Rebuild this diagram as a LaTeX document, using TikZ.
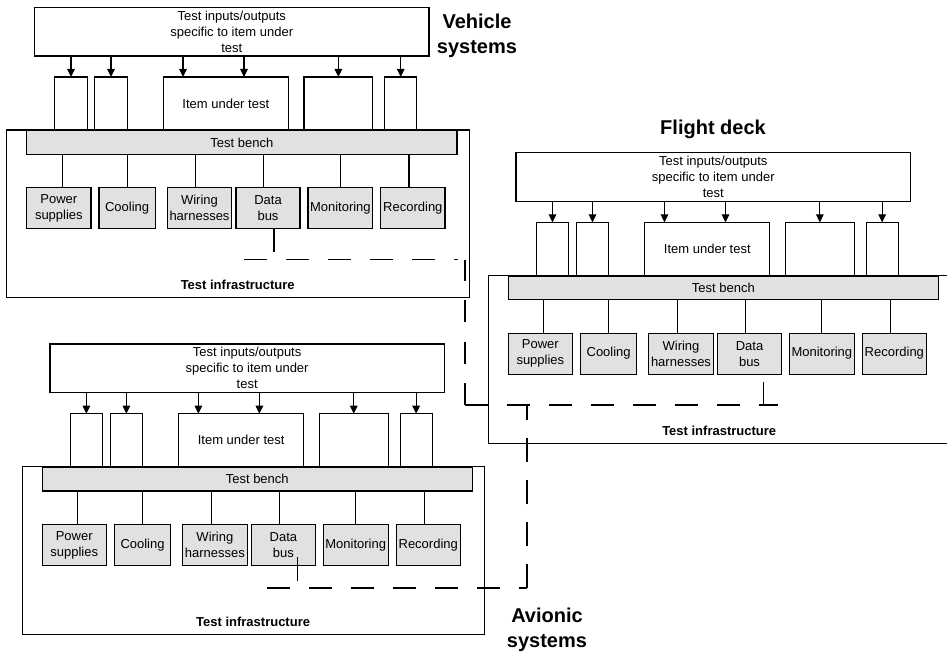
\documentclass[tikz,border=0pt]{standalone}
\usepackage{fontspec}
\setmainfont{Liberation Sans}
\usetikzlibrary{arrows.meta}

\definecolor{benchgray}{RGB}{225,225,225}

\tikzset{
  every node/.style={inner sep=0pt, outer sep=0pt},
  frame/.style={draw, line width=1.2pt, rectangle},
  iobox/.style={frame, align=center, font=\fontsize{13}{16}\selectfont},
  slot/.style={frame, fill=white, font=\fontsize{13}{16}\selectfont},
  part/.style={frame, fill=benchgray, align=center, font=\fontsize{13}{16}\selectfont},
  feed/.style={line width=1.2pt, -{Triangle[length=8pt,width=7.5pt]}},
  wire/.style={line width=1.2pt},
  link/.style={line width=1.2pt, dash pattern=on 23pt off 19pt},
  caption/.style={font=\bfseries\fontsize{13}{16}\selectfont},
  systitle/.style={font=\bfseries\fontsize{20}{25}\selectfont, align=center},
}

% One test rig: I/O box, slots, test bench, support units and infrastructure frame.
% #1 is the prefix used for all node names of the rig.
\newcommand{\testrig}[1]{%
  \node[frame, minimum width=462.6, minimum height=167.7] (#1-infra) at (238,213.85) {};
  \node[caption] (#1-infra-text) at (237.7,285.3) {Test infrastructure};
  \node[part, minimum width=430.3, minimum height=23.8] (#1-bench) at (241.85,142.4) {Test bench};
  % slots standing on the bench
  \node[slot, minimum width=32.6, minimum height=53] (#1-s1) at (71,103.5) {};
  \node[slot, minimum width=32.6, minimum height=53] (#1-s2) at (111,103.5) {};
  \node[slot, minimum width=125, minimum height=53] (#1-item) at (225.8,103.5) {Item under test};
  \node[slot, minimum width=68.7, minimum height=53] (#1-s4) at (338.35,103.5) {};
  \node[slot, minimum width=32, minimum height=53] (#1-s5) at (400.7,103.5) {};
  % specific inputs/outputs
  \node[iobox, minimum width=394.5, minimum height=48.7] (#1-io) at (231.75,31.65)
    {Test inputs/outputs\\specific to item under\\test};
  \coordinate (#1-ia) at ([xshift=-42.8pt]#1-item.north);
  \coordinate (#1-ib) at ([xshift=18.2pt]#1-item.north);
  \foreach \tgt in {s1,s2,ia,ib,s4,s5}{
    \draw[feed] (#1-io.south -| #1-\tgt) -- (#1-\tgt |- #1-s1.north);
  }
  % support units under the bench
  \node[part, minimum width=64.3, minimum height=41] (#1-power) at (58.85,208.2) {Power\\supplies};
  \node[part, minimum width=56.3, minimum height=41] (#1-cooling) at (127.15,208.2) {Cooling};
  \node[part, minimum width=64.4, minimum height=41] (#1-wiring) at (199.5,208.2) {Wiring\\harnesses};
  \node[part, minimum width=64, minimum height=41] (#1-data) at (268,208.2) {Data\\bus};
  \node[part, minimum width=64.7, minimum height=41] (#1-monitoring) at (340.35,208.2) {Monitoring};
  \node[part, minimum width=64.3, minimum height=41] (#1-recording) at (412.85,208.2) {Recording};
  \foreach \pname/\poff in {power/3.45, cooling/0, wiring/-3.8, data/-4.3, monitoring/0, recording/-3.85}{
    \coordinate (#1-\pname-top) at ([xshift=\poff pt]#1-\pname.north);
    \draw[wire] (#1-\pname-top |- #1-bench.south) -- (#1-\pname-top);
  }
}

\begin{document}
\begin{tikzpicture}[x=1pt, y=-1pt]
  \useasboundingbox (0,0) rectangle (947,652);
  \clip (0,0) rectangle (947,652);

  % vehicle systems rig
  \begin{scope}[shift={(0,0)}]
    \testrig{veh}
  \end{scope}
  % flight deck rig
  \begin{scope}[shift={(481.5,145.4)}]
    \testrig{fd}
  \end{scope}
  % avionic systems rig
  \begin{scope}[shift={(15.4,336.7)}]
    \testrig{av}
  \end{scope}

  % titles
  \node[systitle] (veh-title) at (477,35.6) {Vehicle\\systems};
  \node[systitle, anchor=base] (fd-title) at (713,135) {Flight deck};
  \node[systitle] (av-title) at (547,629.4) {Avionic\\systems};

  % data bus taps
  \coordinate (veh-bus-a) at ([xshift=6pt]veh-data.south);
  \coordinate (veh-bus-b) at ([xshift=6pt,yshift=-23pt]veh-data.south);
  \draw[wire] (veh-bus-a) -- (veh-bus-b);
  \coordinate (fd-bus-a) at ([xshift=14.2pt,yshift=-7.6pt]fd-data.south);
  \coordinate (fd-bus-b) at ([xshift=14.2pt,yshift=-31pt]fd-data.south);
  \draw[wire] (fd-bus-a) -- (fd-bus-b);
  \coordinate (av-bus-a) at ([xshift=13.9pt,yshift=8.4pt]av-data.south);
  \coordinate (av-bus-b) at ([xshift=13.9pt,yshift=-15.6pt]av-data.south);
  \draw[wire] (av-bus-a) -- (av-bus-b);

  % shared data bus links between the rigs
  \coordinate (veh-link-a) at (244,259.7);
  \coordinate (veh-link-b) at (458,259.7);
  \coordinate (veh-link-c) at (465,260);
  \coordinate (fd-link-a) at (465,405);
  \coordinate (fd-link-b) at (778,405);
  \coordinate (av-link-a) at (527,405);
  \coordinate (av-link-b) at (527,588);
  \coordinate (av-link-c) at (267,588);
  \draw[link, dash pattern=on 22.5pt off 19.5pt] (veh-link-a) -- (veh-link-b);
  \draw[link, dash pattern=on 22pt off 19.5pt] (fd-link-a) -- (veh-link-c);
  \draw[link] (fd-link-a) -- (fd-link-b);
  \draw[link] (av-link-c) -- (av-link-b);
  \draw[link, dash pattern=on 24pt off 18pt] (av-link-b) -- (av-link-a);
\end{tikzpicture}
\end{document}
